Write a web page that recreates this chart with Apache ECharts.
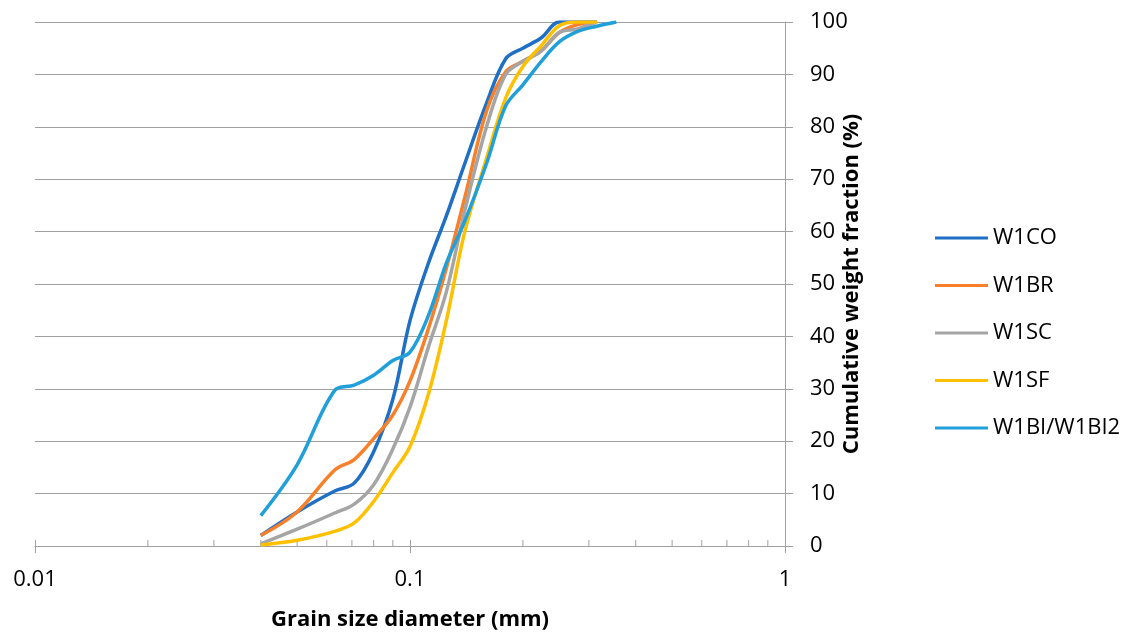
<!DOCTYPE html>
<html>
<head>
<meta charset="utf-8">
<script src="https://cdn.jsdelivr.net/npm/echarts@6/dist/echarts.min.js"></script>
<style>
  html, body { margin: 0; padding: 0; background: #fff; }
  #chart { width: 1139px; height: 636px; }
</style>
</head>
<body>
<div id="chart"></div>
<script>
// grain sizes (mm) the curves were read at
const sizes = [0.04, 0.05, 0.063, 0.071, 0.08, 0.09, 0.1, 0.112, 0.125, 0.14, 0.16, 0.18, 0.2, 0.224, 0.25, 0.28, 0.315, 0.355];

// cumulative weight fraction (%) per sample
const w1co = [2, 6.5, 10.5, 12, 18, 28, 43, 54, 63, 73, 84.5, 93, 95, 97, 100, 100, 100, null];
const w1br = [2, 6.5, 14.5, 16.5, 20.5, 25, 31.5, 41.5, 53, 66.5, 83, 90.5, 92.5, 94.5, 98, 99.5, 100, null];
const w1sc = [0.4, 3.2, 6.3, 8, 11.7, 18.5, 26.5, 38, 48.5, 64, 80, 90, 92.5, 94.5, 98, 98.7, 100, null];
const w1sf = [0.2, 1.1, 2.8, 4.4, 8.5, 14, 19, 29, 43, 60, 74, 85.5, 91.5, 95.5, 99.3, 100, 100, null];
const w1bi = [5.8, 15.5, 29.7, 30.7, 32.6, 35.4, 37, 44, 54, 62, 73, 84, 88, 92.5, 96.2, 98.2, 99.2, 100];

const seriesNames = ['W1CO', 'W1BR', 'W1SC', 'W1SF', 'W1BI/W1BI2'];
const seriesValues = [w1co, w1br, w1sc, w1sf, w1bi];
const colors = ['#1f6fc5', '#f8802b', '#a5a5a5', '#ffc000', '#209fd9'];

// minor tick values on the log axis
const minorTicks = [0.02, 0.03, 0.04, 0.05, 0.06, 0.07, 0.08, 0.09, 0.2, 0.3, 0.4, 0.5, 0.6, 0.7, 0.8, 0.9];

const FONT = '"Open Sans", "Noto Sans", sans-serif';
const AXIS_GREY = '#a0a0a0';

const toPairs = vals => sizes.map((d, i) => [d, vals[i]]).filter(p => p[1] !== null);

const lineSeries = seriesNames.map((name, i) => ({
    name: name,
    type: 'line',
    data: toPairs(seriesValues[i]),
    smooth: 0.35,
    symbol: 'none',
    lineStyle: { width: 3.5, color: colors[i] },
    itemStyle: { color: colors[i] },
    z: 3 + i
}));

const minorTickSeries = {
    type: 'custom',
    silent: true,
    data: minorTicks.map(v => [v, 0]),
    renderItem: (params, api) => {
        const p = api.coord([api.value(0), 0]);
        return {
            type: 'line',
            shape: { x1: p[0], y1: p[1], x2: p[0], y2: p[1] - 6 },
            style: { stroke: AXIS_GREY, lineWidth: 1 }
        };
    },
    z: 1
};

const logLabel = v => String(parseFloat(Number(v).toPrecision(6)));

const chart = echarts.init(document.getElementById('chart'));
chart.setOption({
    animation: false,
    textStyle: { fontFamily: FONT },
    grid: { left: 35, right: 354, top: 22, bottom: 88 },
    legend: {
        orient: 'vertical',
        left: 935,
        top: 227,
        padding: 0,
        itemWidth: 53,
        itemHeight: 3,
        itemGap: 25.5,
        icon: 'rect',
        data: seriesNames,
        textStyle: { fontFamily: FONT, fontSize: 22, color: '#000' }
    },
    xAxis: [
        {
            type: 'log',
            logBase: 10,
            min: 0.01,
            max: 1,
            name: 'Grain size diameter (mm)',
            nameLocation: 'middle',
            nameGap: 63,
            nameMoveOverlap: false,
            nameTextStyle: { fontFamily: FONT, fontSize: 22, fontWeight: 'bold', color: '#000' },
            axisLine: { lineStyle: { color: AXIS_GREY, width: 1 } },
            axisTick: { show: true, length: 7, lineStyle: { color: AXIS_GREY } },
            axisLabel: { margin: 23, fontSize: 22, color: '#000', formatter: logLabel },
            splitLine: { show: false },
            minorTick: { show: false }
        },
        {
            type: 'log',
            logBase: 10,
            min: 0.01,
            max: 1,
            position: 'bottom',
            axisLine: { show: false },
            axisTick: { show: true, inside: true, length: 6, lineStyle: { color: AXIS_GREY } },
            axisLabel: { show: false },
            splitLine: { show: false }
        }
    ],
    yAxis: [
        {
            type: 'value',
            position: 'right',
            min: 0,
            max: 100,
            interval: 10,
            name: 'Cumulative weight fraction (%)',
            nameLocation: 'middle',
            nameRotate: 90,
            nameGap: 56,
            nameMoveOverlap: false,
            nameTextStyle: { fontFamily: FONT, fontSize: 22, fontWeight: 'bold', color: '#000' },
            axisLine: { show: true, lineStyle: { color: AXIS_GREY, width: 1 } },
            axisTick: { show: true, length: 8, lineStyle: { color: AXIS_GREY } },
            axisLabel: { margin: 25, fontSize: 22, color: '#000' },
            splitLine: { show: true, lineStyle: { color: AXIS_GREY, width: 1 } }
        },
        {
            type: 'value',
            position: 'right',
            min: 0,
            max: 100,
            interval: 10,
            axisLine: { show: false },
            axisTick: { show: true, inside: true, length: 5, lineStyle: { color: AXIS_GREY } },
            axisLabel: { show: false },
            splitLine: { show: false }
        }
    ],
    series: [minorTickSeries].concat(lineSeries)
});
</script>
</body>
</html>
